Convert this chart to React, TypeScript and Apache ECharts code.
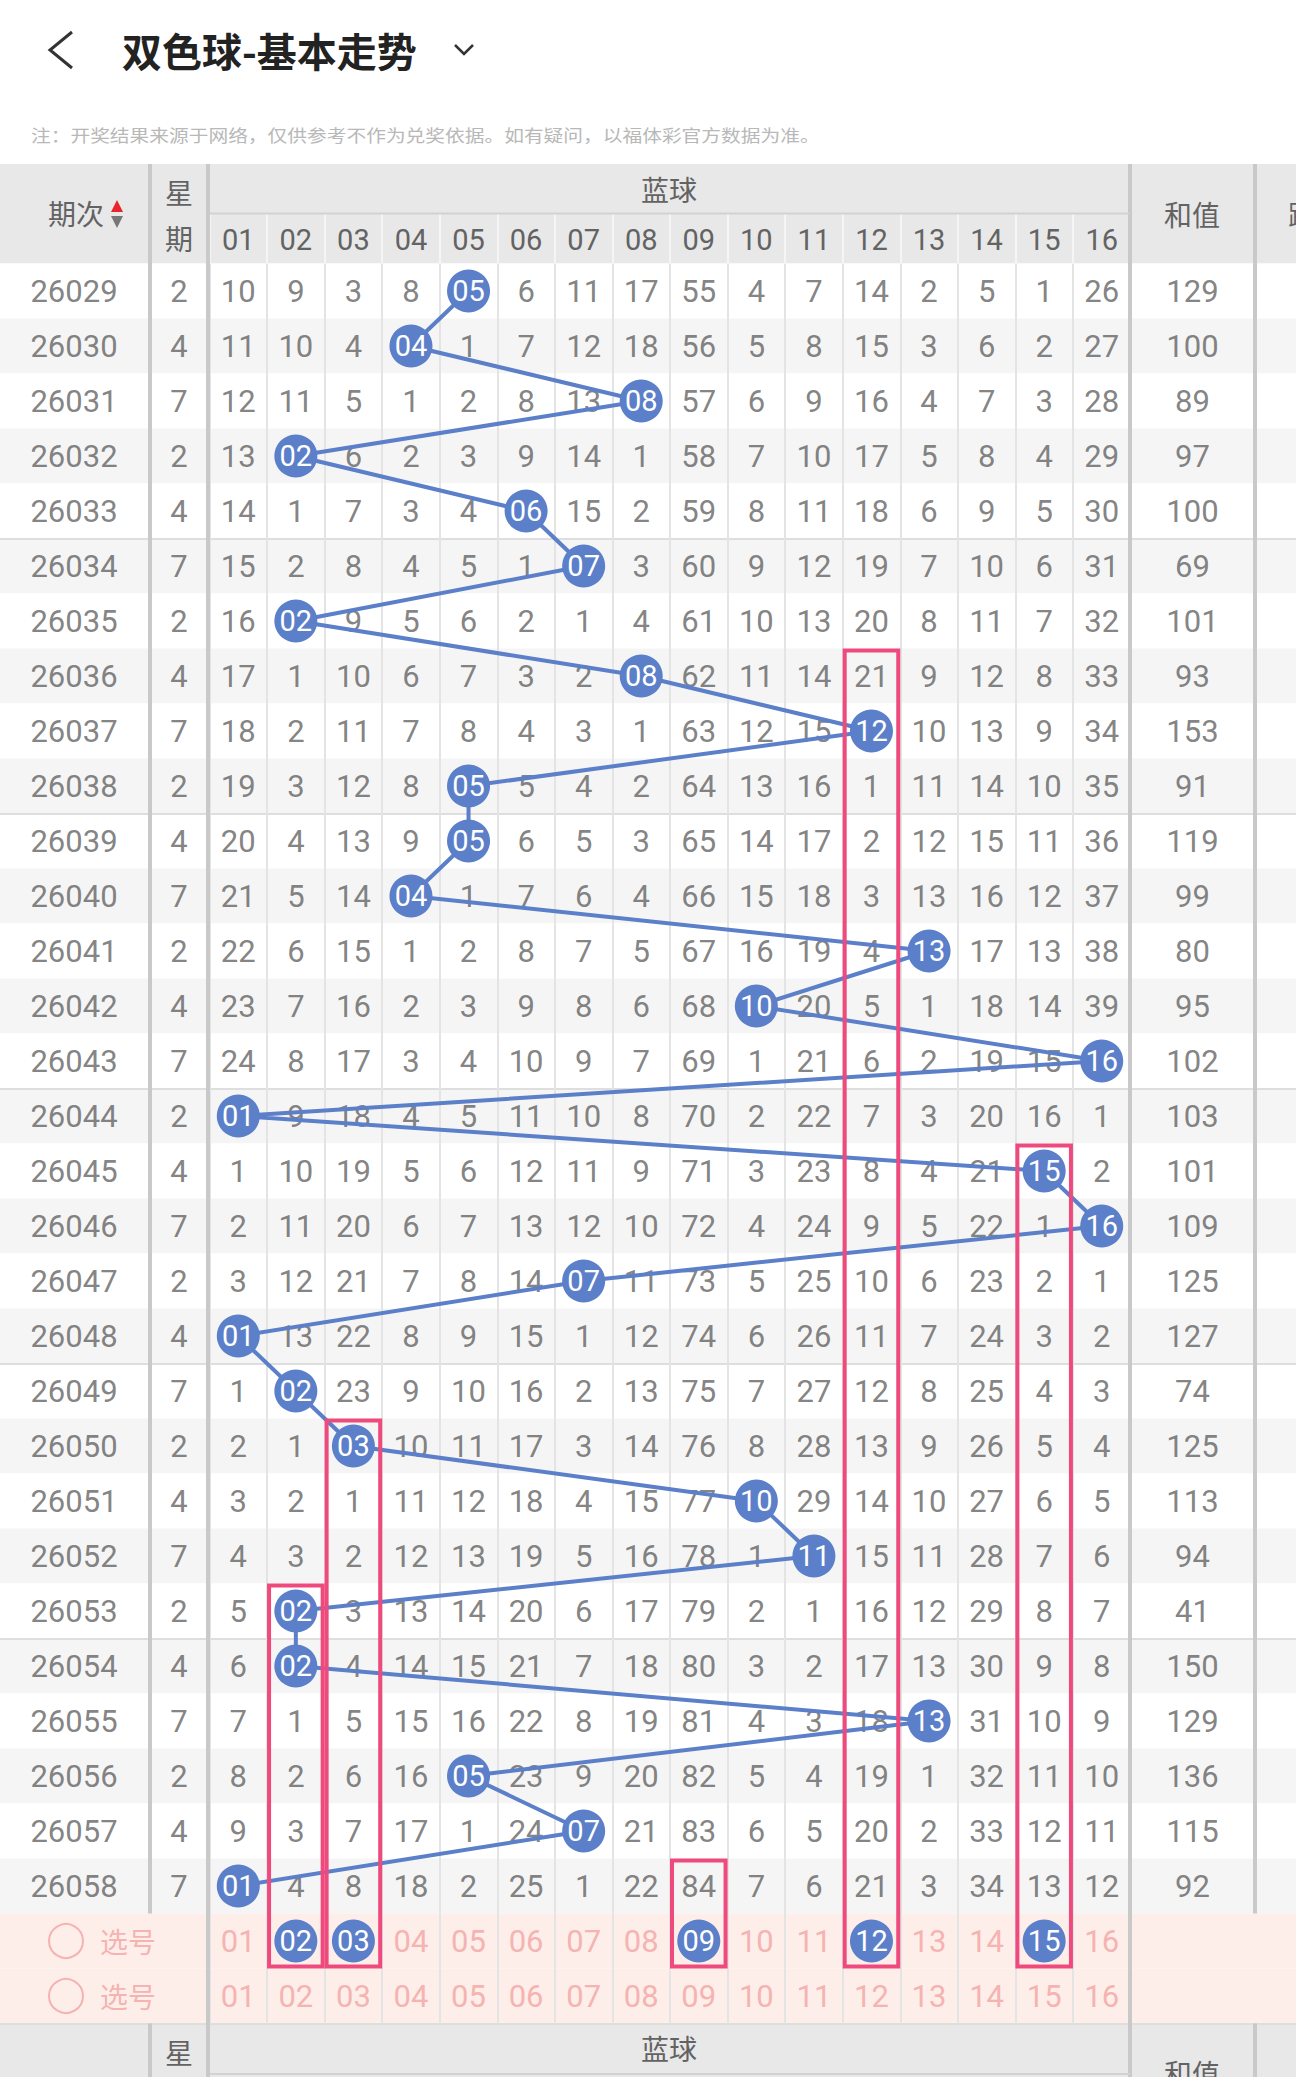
import React, { useEffect, useRef } from 'react';
import * as echarts from 'echarts';

// ---------- data ----------
const periods = [
  '26029', '26030', '26031', '26032', '26033', '26034', '26035', '26036', '26037', '26038',
  '26039', '26040', '26041', '26042', '26043', '26044', '26045', '26046', '26047', '26048',
  '26049', '26050', '26051', '26052', '26053', '26054', '26055', '26056', '26057', '26058',
];
const weekdays = [2, 4, 7, 2, 4, 7, 2, 4, 7, 2, 4, 7, 2, 4, 7, 2, 4, 7, 2, 4, 7, 2, 4, 7, 2, 4, 7, 2, 4, 7];
const blueBalls = ['01', '02', '03', '04', '05', '06', '07', '08', '09', '10', '11', '12', '13', '14', '15', '16'];
const hits = [
  '05', '04', '08', '02', '06', '07', '02', '08', '12', '05',
  '05', '04', '13', '10', '16', '01', '15', '16', '07', '01',
  '02', '03', '10', '11', '02', '02', '13', '05', '07', '01',
];
const sums = [
  129, 100, 89, 97, 100, 69, 101, 93, 153, 91,
  119, 99, 80, 95, 102, 103, 101, 109, 125, 127,
  74, 125, 113, 94, 41, 150, 129, 136, 115, 92,
];
// omission counts per period, columns 01..16 (hit cell shown as a ball)
const omissions = [
  [10, 9, 3, 8, 0, 6, 11, 17, 55, 4, 7, 14, 2, 5, 1, 26],
  [11, 10, 4, 0, 1, 7, 12, 18, 56, 5, 8, 15, 3, 6, 2, 27],
  [12, 11, 5, 1, 2, 8, 13, 0, 57, 6, 9, 16, 4, 7, 3, 28],
  [13, 0, 6, 2, 3, 9, 14, 1, 58, 7, 10, 17, 5, 8, 4, 29],
  [14, 1, 7, 3, 4, 0, 15, 2, 59, 8, 11, 18, 6, 9, 5, 30],
  [15, 2, 8, 4, 5, 1, 0, 3, 60, 9, 12, 19, 7, 10, 6, 31],
  [16, 0, 9, 5, 6, 2, 1, 4, 61, 10, 13, 20, 8, 11, 7, 32],
  [17, 1, 10, 6, 7, 3, 2, 0, 62, 11, 14, 21, 9, 12, 8, 33],
  [18, 2, 11, 7, 8, 4, 3, 1, 63, 12, 15, 0, 10, 13, 9, 34],
  [19, 3, 12, 8, 0, 5, 4, 2, 64, 13, 16, 1, 11, 14, 10, 35],
  [20, 4, 13, 9, 0, 6, 5, 3, 65, 14, 17, 2, 12, 15, 11, 36],
  [21, 5, 14, 0, 1, 7, 6, 4, 66, 15, 18, 3, 13, 16, 12, 37],
  [22, 6, 15, 1, 2, 8, 7, 5, 67, 16, 19, 4, 0, 17, 13, 38],
  [23, 7, 16, 2, 3, 9, 8, 6, 68, 0, 20, 5, 1, 18, 14, 39],
  [24, 8, 17, 3, 4, 10, 9, 7, 69, 1, 21, 6, 2, 19, 15, 0],
  [0, 9, 18, 4, 5, 11, 10, 8, 70, 2, 22, 7, 3, 20, 16, 1],
  [1, 10, 19, 5, 6, 12, 11, 9, 71, 3, 23, 8, 4, 21, 0, 2],
  [2, 11, 20, 6, 7, 13, 12, 10, 72, 4, 24, 9, 5, 22, 1, 0],
  [3, 12, 21, 7, 8, 14, 0, 11, 73, 5, 25, 10, 6, 23, 2, 1],
  [0, 13, 22, 8, 9, 15, 1, 12, 74, 6, 26, 11, 7, 24, 3, 2],
  [1, 0, 23, 9, 10, 16, 2, 13, 75, 7, 27, 12, 8, 25, 4, 3],
  [2, 1, 0, 10, 11, 17, 3, 14, 76, 8, 28, 13, 9, 26, 5, 4],
  [3, 2, 1, 11, 12, 18, 4, 15, 77, 0, 29, 14, 10, 27, 6, 5],
  [4, 3, 2, 12, 13, 19, 5, 16, 78, 1, 0, 15, 11, 28, 7, 6],
  [5, 0, 3, 13, 14, 20, 6, 17, 79, 2, 1, 16, 12, 29, 8, 7],
  [6, 0, 4, 14, 15, 21, 7, 18, 80, 3, 2, 17, 13, 30, 9, 8],
  [7, 1, 5, 15, 16, 22, 8, 19, 81, 4, 3, 18, 0, 31, 10, 9],
  [8, 2, 6, 16, 0, 23, 9, 20, 82, 5, 4, 19, 1, 32, 11, 10],
  [9, 3, 7, 17, 1, 24, 0, 21, 83, 6, 5, 20, 2, 33, 12, 11],
  [0, 4, 8, 18, 2, 25, 1, 22, 84, 7, 6, 21, 3, 34, 13, 12],
];
const pickRows = ['pick1', 'pick2'];
const pickLabel = '选号';
const pickedBalls = ['02', '03', '09', '12', '15'];
const highlightCols = ['12', '15', '03', '02', '09'];
const highlightFrom = ['26036', '26045', '26050', '26053', '26058'];

const titleText = '双色球-基本走势';
const noteText = '注：开奖结果来源于网络，仅供参考不作为兑奖依据。如有疑问，以福体彩官方数据为准。';
const headPeriod = '期次';
const headWeek = ['星', '期'];
const headBlue = '蓝球';
const headSum = '和值';
const headNext = '跨度';

// ---------- style ----------
const BLUE = '#5b7fc9';
const PINK = '#ef4a7e';
const PICK_TXT = '#f3a3a3';
const TXT = '#636363';
const NUM_FONT = 'Roboto';
const CJK = 'Noto Sans CJK SC';

const rows = [...periods, ...pickRows];

export default function App() {
  const ref = useRef<HTMLDivElement>(null);

  useEffect(() => {
    document.body.style.margin = '0';
    if (!ref.current) return;
    const chart = echarts.init(ref.current, null, { renderer: 'svg' });

    const top = 263.5;
    const rowH = 55;
    const height = rows.length * rowH;
    const tableBottom = top + height;
    const pickTop = top + periods.length * rowH;

    const gridDefs = [
      { left: 0, width: 1296 }, // background
      { left: 0, width: 148 }, // period
      { left: 152, width: 54 }, // weekday
      { left: 209.5, width: 921 }, // blue balls
      { left: 1132, width: 121 }, // sum
    ];
    const grid = gridDefs.map((g) => ({ left: g.left, width: g.width, top, height, containLabel: false }));

    const hiddenY = (i: number) => ({
      type: 'category', gridIndex: i, data: rows, inverse: true, show: false,
    });
    const yAxis: any[] = [
      {
        type: 'category', gridIndex: 0, data: rows, inverse: true, show: true,
        axisLine: { show: false }, axisTick: { show: false }, axisLabel: { show: false },
        splitLine: {
          show: true,
          interval: (idx: number) => idx > 0 && idx % 5 === 0 && idx < periods.length,
          lineStyle: { color: '#dedede', width: 2 },
        },
      },
      hiddenY(1), hiddenY(2), hiddenY(3), hiddenY(4),
    ];
    const xAxis: any[] = [
      { type: 'category', gridIndex: 0, data: ['row'], show: false },
      { type: 'category', gridIndex: 1, data: [headPeriod], show: false },
      { type: 'category', gridIndex: 2, data: ['星期'], show: false },
      {
        type: 'category', gridIndex: 3, data: blueBalls, position: 'top',
        axisLine: { show: false },
        axisTick: { show: true, interval: 0, length: 50, lineStyle: { color: '#f5f5f5', width: 2 } },
        axisLabel: {
          show: true, interval: 0, margin: 24, verticalAlign: 'middle',
          fontSize: 29, color: TXT, fontFamily: NUM_FONT,
        },
        splitLine: { show: true, interval: 0, lineStyle: { color: '#e4e4e4', width: 2 } },
      },
      { type: 'category', gridIndex: 4, data: [headSum], show: false },
    ];

    const textLabel = (color: string, size = 31, font = NUM_FONT) => ({
      show: true, position: 'inside', color, fontSize: size, fontFamily: font,
      formatter: (p: any) => String(p.value[2]),
    });
    const invisible = { color: 'rgba(0,0,0,0)' };

    const omissionData: any[] = [];
    periods.forEach((p, i) => {
      blueBalls.forEach((b, j) => {
        if (hits[i] !== b) omissionData.push([b, p, omissions[i][j]]);
      });
    });
    const pickNumData: any[] = [];
    blueBalls.forEach((b) => {
      if (!pickedBalls.includes(b)) pickNumData.push([b, pickRows[0], b]);
    });
    blueBalls.forEach((b) => pickNumData.push([b, pickRows[1], b]));

    const series: any[] = [
      {
        type: 'custom', name: 'rowBg', xAxisIndex: 0, yAxisIndex: 0, z: -1, silent: true,
        data: rows.map((r, i) => [0, i]),
        renderItem: (params: any, api: any) => {
          const idx = api.value(1);
          const p = api.coord([0, idx]);
          const s = api.size([1, 1]);
          const cs = params.coordSys;
          const fill = idx >= periods.length ? '#fdeee9' : idx % 2 ? '#f5f5f5' : '#ffffff';
          return {
            type: 'rect',
            shape: { x: cs.x, y: p[1] - s[1] / 2, width: cs.width, height: s[1] },
            style: { fill },
          };
        },
      },
      {
        type: 'scatter', name: 'period', xAxisIndex: 1, yAxisIndex: 1, silent: true,
        symbolSize: 1, itemStyle: invisible,
        data: periods.map((p) => [headPeriod, p, p]),
        label: textLabel(TXT),
      },
      {
        type: 'scatter', name: 'pickCircle', xAxisIndex: 1, yAxisIndex: 1, silent: true,
        symbol: 'circle', symbolSize: 34, symbolOffset: [-8, 0],
        itemStyle: { color: 'rgba(0,0,0,0)', borderColor: PICK_TXT, borderWidth: 2 },
        data: pickRows.map((r) => [headPeriod, r, pickLabel]),
      },
      {
        type: 'scatter', name: 'pickLabel', xAxisIndex: 1, yAxisIndex: 1, silent: true,
        symbolSize: 1, itemStyle: invisible,
        data: pickRows.map((r) => [headPeriod, r, pickLabel]),
        label: { ...textLabel(PICK_TXT, 28, CJK), offset: [54, 0] },
      },
      {
        type: 'scatter', name: 'weekday', xAxisIndex: 2, yAxisIndex: 2, silent: true,
        symbolSize: 1, itemStyle: invisible,
        data: periods.map((p, i) => ['星期', p, weekdays[i]]),
        label: textLabel(TXT),
      },
      {
        type: 'scatter', name: 'omission', xAxisIndex: 3, yAxisIndex: 3, silent: true,
        symbolSize: 1, itemStyle: invisible, z: 2,
        data: omissionData,
        label: textLabel(TXT),
      },
      {
        type: 'scatter', name: 'pickNums', xAxisIndex: 3, yAxisIndex: 3, silent: true,
        symbolSize: 1, itemStyle: invisible, z: 2,
        data: pickNumData,
        label: textLabel(PICK_TXT),
      },
      {
        type: 'line', name: 'trend', xAxisIndex: 3, yAxisIndex: 3, silent: true, z: 3,
        symbol: 'none', lineStyle: { color: BLUE, width: 4 },
        data: periods.map((p, i) => [hits[i], p]),
      },
      {
        type: 'scatter', name: 'balls', xAxisIndex: 3, yAxisIndex: 3, silent: true, z: 4,
        symbol: 'circle', symbolSize: 43, itemStyle: { color: BLUE, opacity: 1 },
        data: [
          ...periods.map((p, i) => [hits[i], p, hits[i]]),
          ...pickedBalls.map((b) => [b, pickRows[0], b]),
        ],
        label: textLabel('#ffffff', 29),
      },
      {
        type: 'custom', name: 'highlight', xAxisIndex: 3, yAxisIndex: 3, silent: true, z: 5,
        data: highlightCols.map((c, k) => [
          blueBalls.indexOf(c), rows.indexOf(highlightFrom[k]), rows.indexOf(pickRows[0]),
        ]),
        renderItem: (params: any, api: any) => {
          const p0 = api.coord([api.value(0), api.value(1)]);
          const p1 = api.coord([api.value(0), api.value(2)]);
          const s = api.size([1, 1]);
          return {
            type: 'rect',
            shape: {
              x: p0[0] - s[0] / 2 + 2,
              y: p0[1] - s[1] / 2 + 2,
              width: s[0] - 4,
              height: p1[1] - p0[1] + s[1] - 4,
            },
            style: { fill: 'none', stroke: PINK, lineWidth: 4 },
          };
        },
      },
      {
        type: 'scatter', name: 'sum', xAxisIndex: 4, yAxisIndex: 4, silent: true,
        symbolSize: 1, itemStyle: invisible,
        data: periods.map((p, i) => [headSum, p, sums[i]]),
        label: textLabel(TXT),
      },
    ];

    const cjkText = (text: string, x: number, y: number, size = 28, fill = TXT, align = 'center', extra: any = {}) => ({
      type: 'text', z: 20, silent: true,
      style: { text, x, y, fill, fontSize: size, fontFamily: CJK, align, verticalAlign: 'middle', ...extra },
    });
    const divider = (x: number, y0: number, y1: number) => ({
      type: 'rect', z: 15, silent: true,
      shape: { x, y: y0, width: 4, height: y1 - y0 },
      style: { fill: '#c9c9c9' },
    });
    const footTop = tableBottom;
    const graphic: any[] = [
      // title bar
      { type: 'polyline', z: 20, shape: { points: [[72, 32], [50, 50], [72, 68]] }, style: { stroke: '#333', lineWidth: 3, fill: 'none' } },
      { type: 'text', z: 20, style: { text: titleText, x: 122, y: 50, fill: '#222', fontSize: 40, fontWeight: 'bold', fontFamily: CJK, verticalAlign: 'middle' } },
      { type: 'polyline', z: 20, shape: { points: [[455, 45], [464, 54], [473, 45]] }, style: { stroke: '#333', lineWidth: 2.5, fill: 'none' } },
      { type: 'text', z: 20, x: 31, y: 135, scaleX: 1.16, style: { text: noteText, x: 0, y: 0, fill: '#b8b8b8', fontSize: 17, fontFamily: CJK, verticalAlign: 'middle' } },
      // header background
      { type: 'rect', z: -10, shape: { x: 0, y: 164, width: 1296, height: top - 164 }, style: { fill: '#e8e8e8' } },
      { type: 'rect', z: -10, shape: { x: 0, y: footTop, width: 1296, height: 2077 - footTop }, style: { fill: '#e8e8e8' } },
      cjkText(headPeriod, 76, 213),
      { type: 'polygon', z: 20, shape: { points: [[111, 212], [123, 212], [117, 200]] }, style: { fill: '#e8242c' } },
      { type: 'polygon', z: 20, shape: { points: [[111, 216], [123, 216], [117, 228]] }, style: { fill: '#777' } },
      cjkText(headWeek[0], 179, 192),
      cjkText(headWeek[1], 179, 238),
      cjkText(headBlue, 669, 189),
      { type: 'line', z: 20, shape: { x1: 210, y1: 213.5, x2: 1130, y2: 213.5 }, style: { stroke: '#d2d2d2', lineWidth: 2 } },
      cjkText(headSum, 1192, 214),
      cjkText(headNext, 1288, 214, 28, TXT, 'left'),
      // dividers
      divider(148, 164, pickTop), divider(148, footTop, 2077),
      divider(206, 164, 2077),
      divider(1128, 164, 2077),
      divider(1253, 164, pickTop), divider(1253, footTop, 2077),
      // footer header
      cjkText(headWeek[0], 179, 2052),
      cjkText(headBlue, 669, 2048),
      { type: 'line', z: 20, shape: { x1: 210, y1: 2074, x2: 1130, y2: 2074 }, style: { stroke: '#d2d2d2', lineWidth: 2 } },
      cjkText(headSum, 1192, 2073),
    ];

    chart.setOption({
      animation: false,
      backgroundColor: '#ffffff',
      grid,
      xAxis,
      yAxis,
      series,
      graphic,
    });

    return () => chart.dispose();
  }, []);

  return <div ref={ref} style={{ width: 1296, height: 2077 }} />;
}
